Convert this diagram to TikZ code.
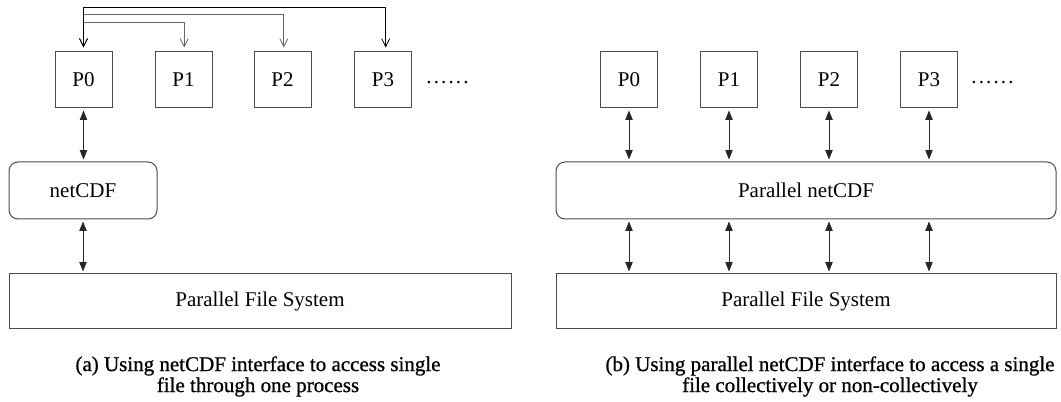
\documentclass[tikz,border=0pt]{standalone}
\usepackage{fontspec}
\setmainfont{Liberation Serif}
\newfontfamily\capfont[FakeBold=0.8]{Liberation Serif}
\usetikzlibrary{arrows.meta}
\tikzset{
  boxline/.style={draw=black!70, line width=0.75pt},
  proc/.style={boxline, minimum width=42.75pt, minimum height=42pt, inner sep=0pt, font=\fontsize{15.75}{18}\selectfont},
  layer/.style={boxline, rounded corners=6.75pt, minimum height=42.75pt, inner sep=0pt, font=\fontsize{15.75}{18}\selectfont},
  fsbox/.style={boxline, minimum height=41.25pt, inner sep=0pt, font=\fontsize{15.75}{18}\selectfont},
  bi/.style={line width=0.6pt, black!85, {Triangle[length=7pt,width=5.5pt]}-{Triangle[length=7pt,width=5.5pt]}, shorten <=1.5pt, shorten >=1.5pt},
  bcast/.style={line width=0.6pt, {Straight Barb[length=6pt,width=6pt]}-{Straight Barb[length=6pt,width=6pt]}, shorten <=3pt, shorten >=3pt},
  dots/.style={font=\fontsize{15.75}{18}\selectfont, inner sep=0pt},
  caption/.style={align=center, inner sep=0pt, font=\capfont\fontsize{15.75}{15.75}\selectfont}
}
\newcommand{\sixdots}{.\kern1.6pt.\kern1.6pt.\kern1.6pt.\kern1.6pt.\kern1.6pt.}
\begin{document}
\begin{tikzpicture}[x=0.75pt,y=-0.75pt]
\useasboundingbox (0,0) rectangle (1061,402);
% left panel
\node[proc] (a0) at (83.5,80) {P0};
\node[proc] (a1) at (183.5,80) {P1};
\node[proc] (a2) at (282.5,80) {P2};
\node[proc] (a3) at (383,80) {P3};
\node[dots] (ad) at (447.5,82.5) {\sixdots};
\node[layer, minimum width=111pt] (anc) at (83,190.5) {netCDF};
\node[fsbox, minimum width=376.5pt] (afs) at (260,301.5) {Parallel File System};
\coordinate (l1) at (0,22);
\coordinate (l2) at (0,14);
\coordinate (l3) at (0,7);
\draw[bcast, black!60] (a0.north) -- (a0.north |- l1) -| ([xshift=0.5pt]a1.north);
\draw[bcast, black!60] (a0.north) -- (a0.north |- l2) -| ([xshift=1pt]a2.north);
\draw[bcast, black] (a0.north) -- (a0.north |- l3) -| ([xshift=2pt]a3.north);
\draw[bi] (a0.south) -- (a0 |- anc.north);
\draw[bi] (anc.south) -- (anc.south |- afs.north);
% right panel
\node[proc] (b0) at (629,80) {P0};
\node[proc] (b1) at (729,80) {P1};
\node[proc] (b2) at (829,80) {P2};
\node[proc] (b3) at (929,80) {P3};
\node[dots] (bd) at (992.5,83) {\sixdots};
\node[layer, minimum width=375pt] (bnc) at (806,190.5) {Parallel netCDF};
\node[fsbox, minimum width=375pt] (bfs) at (806,301.5) {Parallel File System};
\foreach \i in {0,1,2,3}{
  \draw[bi] (b\i.south) -- (b\i |- bnc.north);
  \draw[bi] (b\i |- bnc.south) -- (b\i |- bfs.north);
}
% captions
\node[caption, anchor=north] (capa) at (258,356) {(a) Using netCDF interface to access single\\file through one process};
\node[caption, anchor=north] (capb) at (830,356) {(b) Using parallel netCDF interface to access a single\\file collectively or non-collectively};
\end{tikzpicture}
\end{document}
